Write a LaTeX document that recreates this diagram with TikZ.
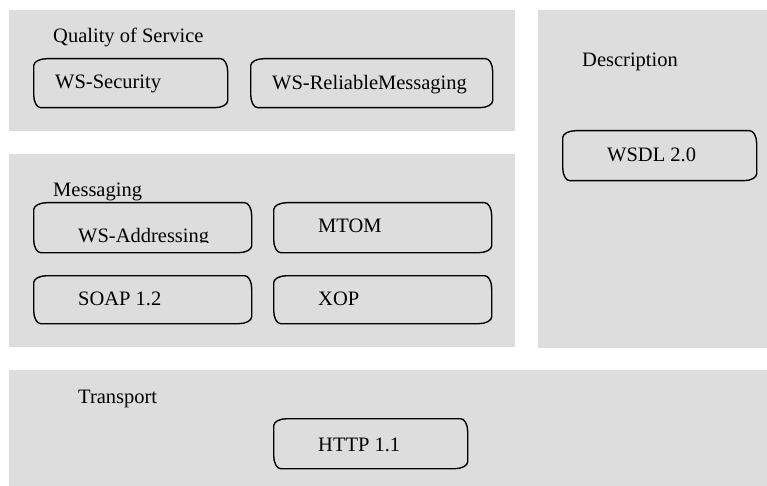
\documentclass[tikz,border=0pt]{standalone}
\usepackage{fontspec}
\setmainfont{Liberation Serif}
\definecolor{panelgray}{RGB}{221,221,221}
\tikzset{
  panel/.style={rectangle, fill=panelgray, inner sep=0pt, anchor=north west},
  flatcorners/.code={\pgfsetcornersarced{\pgfpoint{13pt}{7pt}}},
  specbox/.style={rectangle, draw, line width=1.4pt, flatcorners, inner sep=0pt, anchor=north west},
  lbl/.style={inner sep=0pt, anchor=west, font=\fontsize{20.5pt}{24pt}\selectfont},
}
\begin{document}
\begin{tikzpicture}[x=1pt, y=-1pt]
    \useasboundingbox (0,0) rectangle (767,486);

    % layers
    \node (qos) [panel, minimum width=506pt, minimum height=121pt] at (9,10) {};
    \node (msg) [panel, minimum width=506pt, minimum height=193pt] at (9,154) {};
    \node (desc) [panel, minimum width=229pt, minimum height=338pt] at (538,10) {};
    \node (trans) [panel, minimum width=758pt, minimum height=116pt] at (9,370) {};

    \node (qost) [lbl] at ([xshift=44pt, yshift=-27pt]qos.north west) {Quality of Service};
    \node (msgt) [lbl] at ([xshift=44pt, yshift=-38pt]msg.north west) {Messaging};
    \node (desct) [lbl] at ([xshift=44pt, yshift=-52pt]desc.north west) {Description};
    \node (transt) [lbl] at ([xshift=69pt, yshift=-29pt]trans.north west) {Transport};

    % specifications
    \node (sec) [specbox, minimum width=194pt, minimum height=49pt] at (33,58) {};
    \node (rm) [specbox, minimum width=242pt, minimum height=49pt] at (250,58) {};
    \node (addr) [specbox, minimum width=218pt, minimum height=50pt] at (33,202) {};
    \node (mtom) [specbox, minimum width=218pt, minimum height=50pt] at (273,202) {};
    \node (soap) [specbox, minimum width=218pt, minimum height=48pt] at (33,275) {};
    \node (xop) [specbox, minimum width=218pt, minimum height=48pt] at (273,275) {};
    \node (wsdl) [specbox, minimum width=194pt, minimum height=50pt] at (562,130) {};
    \node (http) [specbox, minimum width=194pt, minimum height=50pt] at (273,418) {};

    \node (sect) [lbl] at ([xshift=22pt, yshift=-1pt]sec.west) {WS-Security};
    \node (rmt) [lbl] at ([xshift=22pt, yshift=-1pt]rm.west) {WS-ReliableMessaging};
    \begin{scope}
        \clip (addr.north west) rectangle ([yshift=10.5pt]addr.south east);
        \node (addrt) [lbl, anchor=base west] at ([xshift=45pt, yshift=11pt]addr.south west) {WS-Addressing};
    \end{scope}
    \node (mtomt) [lbl] at ([xshift=45pt, yshift=2pt]mtom.west) {MTOM};
    \node (soapt) [lbl] at ([xshift=45pt, yshift=1pt]soap.west) {SOAP 1.2};
    \node (xopt) [lbl] at ([xshift=45pt, yshift=1pt]xop.west) {XOP};
    \node (wsdlt) [lbl] at ([xshift=45pt, yshift=1pt]wsdl.west) {WSDL 2.0};
    \node (httpt) [lbl] at ([xshift=45pt, yshift=-1pt]http.west) {HTTP 1.1};
\end{tikzpicture}
\end{document}
